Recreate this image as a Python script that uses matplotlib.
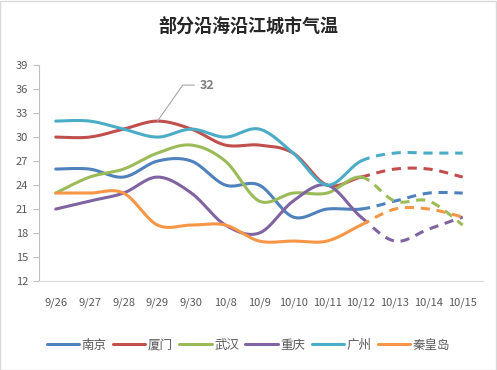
import numpy as np
import matplotlib.pyplot as plt
from matplotlib.patches import Rectangle

plt.rcParams['font.family'] = ['Noto Sans CJK SC', 'DejaVu Sans']

dates = ["9/26", "9/27", "9/28", "9/29", "9/30", "10/8", "10/9",
         "10/10", "10/11", "10/12", "10/13", "10/14", "10/15"]
cities = ["南京", "厦门", "武汉", "重庆", "广州", "秦皇岛"]
nanjing = [26, 26, 25, 27, 27, 24, 24, 20, 21, 21, 22, 23, 23]
xiamen = [30, 30, 31, 32, 31, 29, 29, 28, 24, 25, 26, 26, 25]
wuhan = [23, 25, 26, 28, 29, 27, 22, 23, 23, 25, 22, 22, 19]
chongqing = [21, 22, 23, 25, 23, 19, 18, 22, 24, 20, 17, 18.5, 20]
guangzhou = [32, 32, 31, 30, 31, 30, 31, 28, 24, 27, 28, 28, 28]
qinhuangdao = [23, 23, 23, 19, 19, 19, 17, 17, 17, 19, 21, 21, 20]
series = [nanjing, xiamen, wuhan, chongqing, guangzhou, qinhuangdao]
colors = ["#4F81BD", "#C0504D", "#9BBB59", "#8064A2", "#4BACC6", "#F79646"]
forecast_start = 9  # 10/12 onward dashed


def smooth(y, n=30):
    """Catmull-Rom style bezier through the points (Excel-like smoothed line)."""
    y = np.asarray(y, float)
    x = np.arange(len(y), dtype=float)
    px = np.concatenate([[x[0]], x, [x[-1]]])
    py = np.concatenate([[y[0]], y, [y[-1]]])
    xs, ys = [], []
    t = np.linspace(0, 1, n)
    for i in range(len(y) - 1):
        p0 = np.array([px[i], py[i]])
        p1 = np.array([px[i + 1], py[i + 1]])
        p2 = np.array([px[i + 2], py[i + 2]])
        p3 = np.array([px[i + 3], py[i + 3]])
        c1 = p1 + (p2 - p0) / 6
        c2 = p2 - (p3 - p1) / 6
        pts = ((1 - t)[:, None] ** 3 * p1 + 3 * ((1 - t) ** 2 * t)[:, None] * c1
               + 3 * ((1 - t) * t ** 2)[:, None] * c2 + (t ** 3)[:, None] * p2)
        xs.append(pts[:, 0])
        ys.append(pts[:, 1])
    return np.concatenate(xs), np.concatenate(ys)


fig = plt.figure(figsize=(4.97, 3.70), dpi=100)
fig.patches.append(Rectangle((0.001, 0.001), 0.997, 0.997, transform=fig.transFigure,
                             fill=False, edgecolor="#D9D9D9", lw=1))
ax = fig.add_axes([0.078, 0.2405, 0.894, 0.5835])

for vals, c, name in zip(series, colors, cities):
    sx, sy = smooth(vals)
    solid = sx <= forecast_start
    ax.plot(sx[solid], sy[solid], color=c, lw=2.2, solid_capstyle="round", label=name)
    dashed = sx >= forecast_start
    ax.plot(sx[dashed], sy[dashed], color=c, lw=2.2, ls=(0, (3, 2.2)))

# data label for 厦门 peak
ax.annotate(str(xiamen[3]), xy=(3, xiamen[3]), xytext=(4.25, 36.5),
            fontsize=9, fontweight="bold", color="#7F7F7F", va="center",
            arrowprops=dict(arrowstyle="-", color="#A6A6A6", lw=0.8,
                            shrinkA=2, shrinkB=0,
                            connectionstyle="angle,angleA=0,angleB=55,rad=0"))

ax.set_xlim(-0.5, 12.6)
ax.set_ylim(12, 39)
ax.set_yticks(range(12, 40, 3))
ax.set_xticks(range(len(dates)))
ax.set_xticklabels(dates)
ax.tick_params(axis="x", length=0, pad=12, labelsize=8, colors="#595959")
ax.tick_params(axis="y", length=4, direction="out", labelsize=8, colors="#595959",
               color="#BFBFBF")
for s in ["top", "right"]:
    ax.spines[s].set_visible(False)
ax.spines["left"].set_color("#BFBFBF")
ax.spines["bottom"].set_color("#D9D9D9")

fig.suptitle("部分沿海沿江城市气温", y=0.955, fontsize=13, fontweight="bold", color="#262626")
fig.legend(loc="center", bbox_to_anchor=(0.5, 0.067), ncol=6, frameon=False,
           fontsize=9, handlelength=2.6, handletextpad=0.2, columnspacing=0.5,
           labelcolor="#595959")

fig.savefig("out.png", dpi=100)
